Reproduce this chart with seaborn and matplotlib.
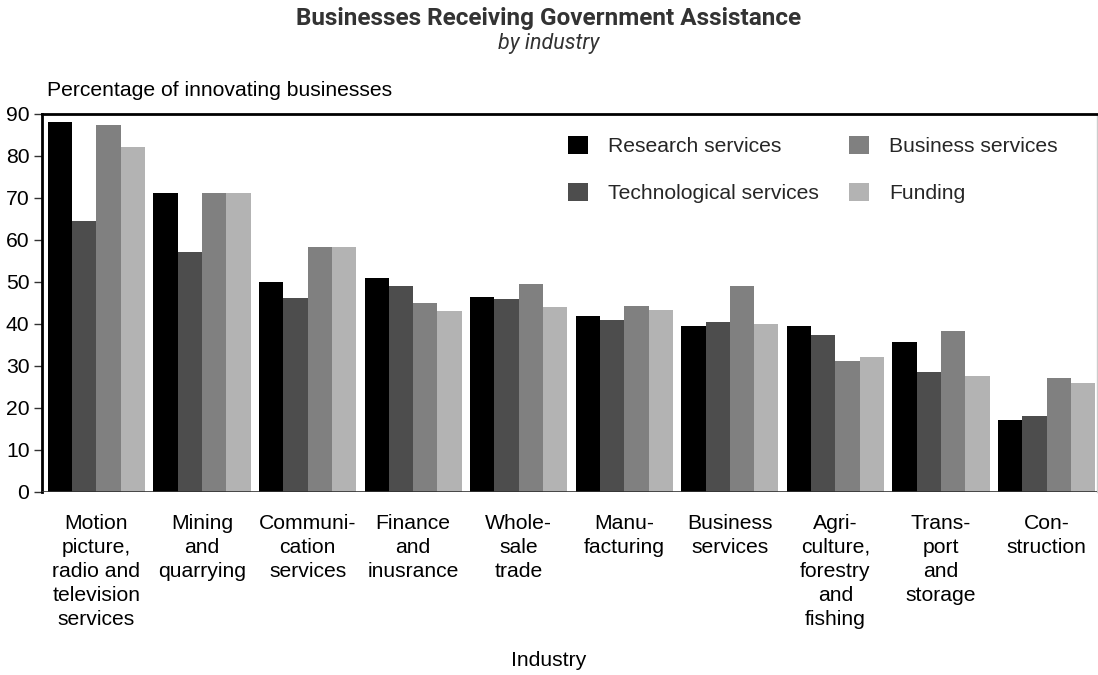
import numpy as np
import pandas as pd
import seaborn as sns
import matplotlib.pyplot as plt

# chart data
industries = ["Motion\npicture,\nradio and\ntelevision\nservices",
              "Mining\nand\nquarrying",
              "Communi-\ncation\nservices",
              "Finance\nand\ninusrance",
              "Whole-\nsale\ntrade",
              "Manu-\nfacturing",
              "Business\nservices",
              "Agri-\nculture,\nforestry\nand\nfishing",
              "Trans-\nport\nand\nstorage",
              "Con-\nstruction"]

research = [88.0, 71.0, 49.9, 50.9, 46.4, 41.8, 39.5, 39.5, 35.6, 17.1]
technological = [64.4, 57.1, 46.1, 49.0, 45.8, 40.9, 40.4, 37.3, 28.5, 18.0]
business = [87.3, 71.0, 58.3, 44.9, 49.4, 44.2, 49.0, 31.1, 38.2, 27.1]
funding = [82.0, 71.0, 58.3, 43.0, 44.0, 43.3, 39.9, 32.0, 27.5, 25.9]

series = ["Research services", "Technological services", "Business services", "Funding"]
colors = ["#000000", "#4d4d4d", "#808080", "#b3b3b3"]
y_ticks = [0, 10, 20, 30, 40, 50, 60, 70, 80, 90]

df = pd.DataFrame({
    "industry": industries * 4,
    "value": research + technological + business + funding,
    "type": np.repeat(series, len(industries)),
})

sns.set_theme(style="white")
plt.rcParams['font.family'] = ['Liberation Sans', 'DejaVu Sans']
fs = 15.2

fig = plt.figure(figsize=(10.98, 6.75), dpi=100)
ax = fig.add_axes([42 / 1098, 1 - 491.5 / 675, (1097 - 42) / 1098, (491.5 - 113.7) / 675])

sns.barplot(data=df, x="industry", y="value", hue="type", palette=colors,
            width=0.92, saturation=1, linewidth=0, ax=ax, legend=True)

ax.set_xlim(-0.516, 9.478)
ax.set_ylim(0, 90)
ax.set_yticks(y_ticks)
ax.tick_params(axis='y', which='major', left=True, length=6, width=1, color='#333333',
               labelsize=fs, labelcolor='black', pad=3)
ax.tick_params(axis='x', bottom=False, labelsize=fs, labelcolor='black', pad=10)
for lab in ax.get_xticklabels():
    lab.set_linespacing(1.33)

ax.set_xlabel("")
ax.set_ylabel("")

# spines
ax.spines['left'].set_color('black')
ax.spines['left'].set_linewidth(2)
ax.spines['top'].set_color('black')
ax.spines['top'].set_linewidth(2)
ax.spines['right'].set_color('#cccccc')
ax.spines['right'].set_linewidth(1)
ax.spines['bottom'].set_visible(False)
ax.axhline(0, color='#333333', lw=1.2, zorder=5)

# legend
handles, labels = ax.get_legend_handles_labels()
ax.legend(handles, labels, ncol=2, frameon=False, fontsize=fs,
          loc='upper left', bbox_to_anchor=(568 / 1098, 1 - 136 / 675),
          bbox_transform=fig.transFigure, borderpad=0, borderaxespad=0,
          handlelength=0.95, handleheight=0.95, handletextpad=0.95,
          columnspacing=1.42, labelspacing=1.25)

# titles and axis labels
fig.text(0.5, 1 - 18 / 675, "Businesses Receiving Government Assistance",
         ha='center', va='center', fontsize=17.5, fontweight='bold', color='#333333',
         family='Roboto')
fig.text(0.5, 1 - 43 / 675, "by industry", ha='center', va='center',
         fontsize=15.5, style='italic', color='#333333', family='Roboto')
fig.text(47 / 1098, 1 - 91 / 675, "Percentage of innovating businesses",
         ha='left', va='center', fontsize=fs, color='black')
fig.text(0.5, 1 - 661 / 675, "Industry", ha='center', va='center',
         fontsize=fs, color='black')

fig.savefig("out.png", dpi=100)
